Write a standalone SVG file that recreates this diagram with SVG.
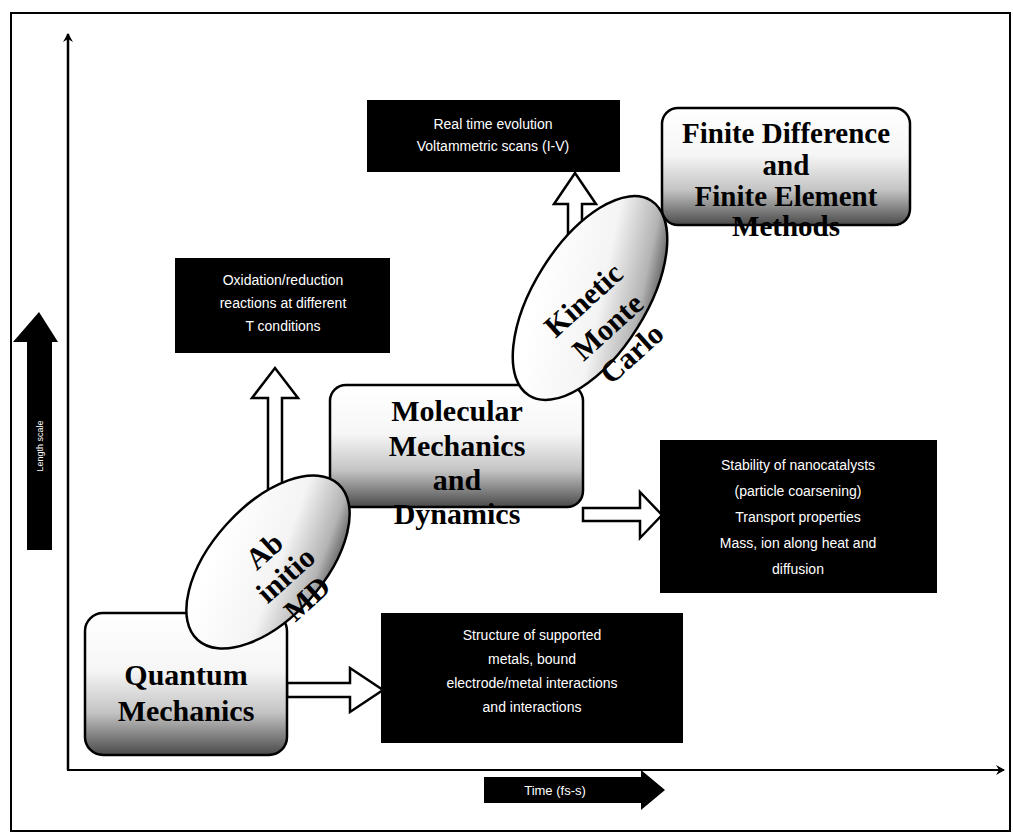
<svg xmlns="http://www.w3.org/2000/svg" width="1013" height="836" viewBox="0 0 1013 836">
<defs>
<linearGradient id="g" x1="0" y1="0" x2="0" y2="1">
<stop offset="0" stop-color="#ffffff"/>
<stop offset="0.4" stop-color="#f6f6f6"/>
<stop offset="0.7" stop-color="#c4c4c4"/>
<stop offset="1" stop-color="#4a4a4a"/>
</linearGradient>
<linearGradient id="ge" x1="0.2" y1="0.2" x2="0.8" y2="1">
<stop offset="0" stop-color="#ffffff"/>
<stop offset="0.5" stop-color="#f4f4f4"/>
<stop offset="0.8" stop-color="#b4b4b4"/>
<stop offset="1" stop-color="#3c3c3c"/>
</linearGradient>
<marker id="ah" markerWidth="12" markerHeight="12" refX="9" refY="6" orient="auto" markerUnits="userSpaceOnUse">
<path d="M1,1 L10,6 L1,11 L4,6 Z" fill="#000"/>
</marker>
</defs>
<style>
.node{fill:url(#g);stroke:#000;stroke-width:2.5}
.ell{fill:url(#ge);stroke:#000;stroke-width:2.5}
.blk{fill:#000}
.t{font-family:"Liberation Serif",serif;font-weight:bold;font-size:30px;fill:#000;text-anchor:middle}
.w{font-family:"Liberation Sans",sans-serif;font-size:14px;fill:#fff;text-anchor:middle}
.hollow{fill:#fff;stroke:#000;stroke-width:2.5;stroke-linejoin:miter}
</style>
<rect x="11" y="13" width="999" height="818" fill="#fff" stroke="#000" stroke-width="2"/>

<g id="axes">
<line x1="68" y1="770" x2="68" y2="34" stroke="#000" stroke-width="2.5" marker-end="url(#ah)"/>
<line x1="67" y1="770" x2="1004" y2="770" stroke="#000" stroke-width="2" marker-end="url(#ah)"/>
</g>

<g id="ylabel">
<path d="M27,550 L27,342 L13,342 L39,312 L58,342 L52,342 L52,550 Z" class="blk"/>
<text class="w" transform="translate(43,446) rotate(-90)" style="font-size:9px">Length scale</text>
</g>

<g id="xlabel">
<path d="M484,777 L641,777 L641,770 L665,790 L641,810 L641,803 L484,803 Z" class="blk"/>
<text class="w" x="555" y="795" style="font-size:13px">Time (fs-s)</text>
</g>

<g id="connectors">
<path class="hollow" d="M287,683 L350,683 L350,668 L383,690 L350,712 L350,697 L287,697 Z"/>
<path class="hollow" d="M583,508 L640,508 L640,492 L662,515 L640,538 L640,521 L583,521 Z"/>
<path class="hollow" d="M268,530 L268,398 L252,398 L275,368 L298,398 L282,398 L282,530 Z"/>
<path class="hollow" d="M568,312 L568,204 L554,204 L575,173 L596,204 L582,204 L582,312 Z"/>
</g>

<g id="qm">
<rect class="node" x="85" y="613" width="202" height="142" rx="18"/>
<text class="t" x="186" y="685">Quantum</text>
<text class="t" x="186" y="721">Mechanics</text>
</g>

<g id="mm">
<rect class="node" x="330" y="385" width="253" height="122" rx="16"/>
<text class="t" x="457" y="421">Molecular</text>
<text class="t" x="457" y="456">Mechanics</text>
<text class="t" x="457" y="490">and</text>
<text class="t" x="457" y="524">Dynamics</text>
</g>

<g id="fd">
<rect class="node" x="662" y="108" width="248" height="117" rx="16"/>
<text class="t" x="786" y="143" style="font-size:29px">Finite Difference</text>
<text class="t" x="786" y="175" style="font-size:29px">and</text>
<text class="t" x="786" y="206" style="font-size:29px">Finite Element</text>
<text class="t" x="786" y="236" style="font-size:29px">Methods</text>
</g>

<g id="abinitio">
<ellipse class="ell" cx="268" cy="562" rx="105" ry="56" transform="rotate(-48 268 562)"/>
<g transform="translate(285,574) rotate(-42)">
<text class="t" x="0" y="-21">Ab</text>
<text class="t" x="0" y="11">initio</text>
<text class="t" x="0" y="43">MD</text>
</g>
</g>

<g id="kmc">
<ellipse class="ell" cx="590" cy="298" rx="115" ry="56" transform="rotate(-58 590 298)"/>
<g transform="translate(607,326) rotate(-42)">
<text class="t" x="0" y="-25">Kinetic</text>
<text class="t" x="0" y="11">Monte</text>
<text class="t" x="0" y="47">Carlo</text>
</g>
</g>

<g id="realtime">
<rect class="blk" x="367" y="100" width="253" height="72"/>
<text class="w" x="493" y="129">Real time evolution</text>
<text class="w" x="493" y="151">Voltammetric scans (I-V)</text>
</g>

<g id="oxidation">
<rect class="blk" x="175" y="258" width="215" height="95"/>
<text class="w" x="283" y="285">Oxidation/reduction</text>
<text class="w" x="283" y="308">reactions at different</text>
<text class="w" x="283" y="331">T conditions</text>
</g>

<g id="stability">
<rect class="blk" x="660" y="440" width="277" height="153"/>
<text class="w" x="798" y="470">Stability of nanocatalysts</text>
<text class="w" x="798" y="496">(particle coarsening)</text>
<text class="w" x="798" y="522">Transport properties</text>
<text class="w" x="798" y="548">Mass, ion along heat and</text>
<text class="w" x="798" y="574">diffusion</text>
</g>

<g id="structure">
<rect class="blk" x="381" y="613" width="302" height="130"/>
<text class="w" x="532" y="640">Structure of supported</text>
<text class="w" x="532" y="664">metals, bound</text>
<text class="w" x="532" y="688">electrode/metal interactions</text>
<text class="w" x="532" y="712">and interactions</text>
</g>
</svg>
